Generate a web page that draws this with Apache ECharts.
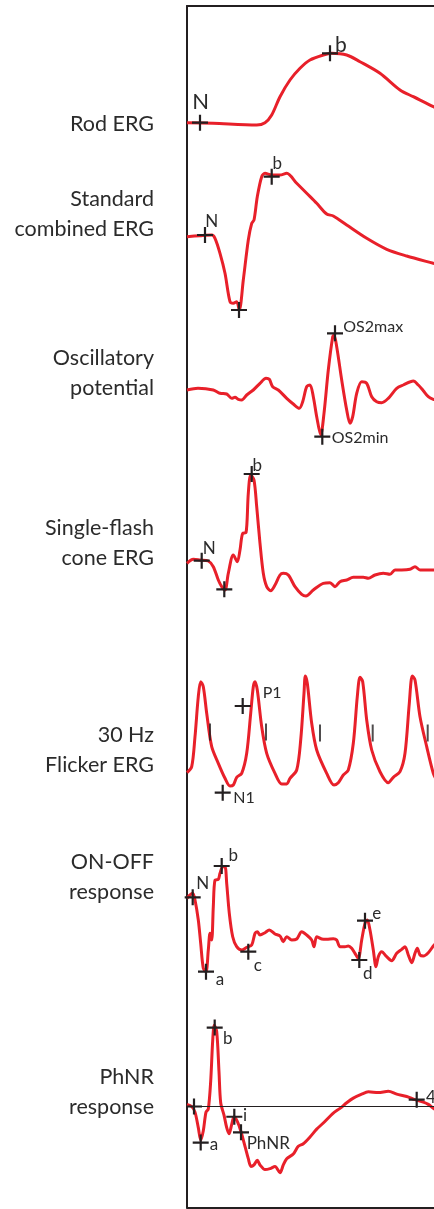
<!DOCTYPE html>
<html>
<head>
<meta charset="utf-8">
<script src="https://cdn.jsdelivr.net/npm/echarts@6/dist/echarts.min.js"></script>
<style>
  html, body { margin: 0; padding: 0; background: #fff; }
  #chart { width: 434px; height: 1209px; }
</style>
</head>
<body>
<div id="chart"></div>
<script>
// row titles, top to bottom
const traceNames = ['Rod ERG', 'Standard\ncombined ERG', 'Oscillatory\npotential', 'Single-flash\ncone ERG', '30 Hz\nFlicker ERG', 'ON-OFF\nresponse', 'PhNR\nresponse'];

// waveforms: [time, amplitude] (arbitrary units)
const rodWave = [[0, 0.3], [26, -0.3], [69.7, -2], [78, 0.3], [84.7, 8], [93, 26.3], [103, 43], [113, 54.7], [123, 63], [136.3, 68], [144.7, 69.7], [159.7, 68], [173, 61.3], [193, 49.7], [213, 33], [226.3, 26.3], [246.3, 16.3], [250, 14]];
const stdWave = [[0, -0.7], [13, 0.3], [24.7, 1], [28, -2.3], [33, -17.3], [38, -37.3], [43, -65.7], [46.3, -67.3], [49.7, -65.7], [52.3, -74], [56.3, -44], [61.3, -4], [64.7, 12.7], [67, 16], [70.3, 39.3], [74.7, 59.3], [78, 62.7], [84.7, 61], [93, 61], [99.7, 62.7], [109.7, 52.7], [119.7, 42.7], [129.7, 32.7], [139.7, 22], [146.3, 20], [159.7, 11], [179.7, -2.3], [199.7, -13.3], [219.7, -20], [246.3, -27.3], [250, -28.3]];
const opWave = [[0, 0], [11, 1.7], [26.3, 0], [33, -3.3], [39.7, -4], [44.7, -8.3], [48, -7.3], [51.3, -9.3], [54.7, -10], [59.7, -5], [66.3, 0], [73, 6.7], [79, 11.7], [82.3, 10.7], [85.7, 3.3], [91.3, 0], [99.7, -8.3], [106.3, -14], [112.3, -18.3], [115.7, -11.7], [119.7, 3.3], [123, 5], [126.3, -6.7], [129.7, -26.7], [133.7, -45], [137, -23.3], [141.3, 20], [145.7, 53.3], [147, 55], [149.7, 43.3], [154.7, 10], [159.7, -20], [163, -33.3], [165.7, -26.7], [169.7, -3.3], [174.7, 8.3], [179.7, 6.7], [184.7, -6.7], [189.7, -11.7], [194.7, -12.7], [201.3, -8.3], [209.7, 1.7], [216.3, 5], [226.3, 9], [231.3, 5], [236.3, -0.7], [241.3, -6.7], [246.3, -9.3], [250, -10]];
const coneWave = [[0, -2.3], [6.3, 1.7], [13, 1], [21.3, 0], [26.3, -5.7], [31.3, -19], [34.7, -25.7], [38, -29], [41.3, -12.3], [46.3, 6], [50.3, -0.7], [53, 11], [55.7, 27.7], [59, 28.3], [61.3, 67.7], [63.7, 86], [67, 81], [69.7, 54.3], [73, 17.7], [76.3, -12.3], [79.7, -25.7], [83.7, -29.7], [88, -24], [93, -14], [96.3, -12.3], [101.3, -14], [108, -25.7], [114.7, -33.3], [119, -35], [126.3, -29], [136.3, -22.3], [143, -21.7], [148, -25.7], [153, -20.7], [159.7, -19], [166.3, -16.3], [176.3, -16.3], [181.3, -17.3], [188, -14], [196.3, -12.3], [203, -13.3], [208, -9], [214.7, -9], [223, -8.3], [228, -5.7], [233, -9], [246.3, -9], [250, -9]];
const flickerWave = [[0, 0.3], [4.7, 6.3], [8, 36.3], [11.3, 76.3], [13.7, 91.3], [16.3, 86.3], [19.7, 59.7], [24.7, 26.3], [31.3, 9.7], [38, -5.3], [43, -13], [46.3, -12], [49.7, -4.3], [54.7, -0.3], [59.7, 19.7], [63.7, 59.7], [66.3, 86.3], [68, 91.3], [70.3, 83], [74.7, 46.3], [79.7, 19.7], [88, -0.3], [94.7, -11], [99.7, -11], [103, -5.3], [109.7, 3], [113.7, 33], [117, 79.7], [118.3, 97], [120.3, 89.7], [124.7, 49.7], [129.7, 23], [139.7, -0.3], [147, -12], [151.3, -9.7], [156.3, -2], [161.3, 3], [166.3, 29.7], [170.3, 76.3], [173, 95.7], [175.7, 91.3], [179.7, 53], [184.7, 23], [193, 1.3], [201.3, -9.7], [206.3, -4.3], [213, 1.3], [218, 19.7], [222.3, 69.7], [225.3, 97], [228, 93], [233, 56.3], [239.7, 26.3], [246.3, -0.3], [250, -8]];
const onoffWave = [[0, -0.3], [3, 3], [5.7, 4.7], [8, -2], [11.3, -22], [13.7, -45.3], [16.3, -70.3], [19, -73.7], [21.3, -52], [23, -35.3], [24.7, -42], [26.3, -8.7], [28, 18], [31.3, 18.7], [33, 24.7], [35.7, 31.3], [38, 31.3], [39.7, 14.7], [42.3, -15.3], [45.7, -38.7], [49.7, -48.7], [54.7, -52], [59.7, -49.3], [64.7, -47], [68, -35.3], [70.3, -33.7], [73, -37], [78, -34.7], [82.3, -32], [88, -36], [93, -38], [96.3, -43.7], [99.7, -38.7], [104.7, -42], [109.7, -41], [114.7, -33.7], [119.7, -37], [124.7, -42], [127, -48.7], [129.7, -38.7], [134.7, -41], [139.7, -41.3], [146.3, -40.7], [149.7, -42], [153, -48.7], [158, -48.7], [161.3, -48], [164.7, -50.3], [168, -55.3], [171.3, -60.3], [174.7, -42], [178, -25.3], [180.3, -22], [183, -32], [186.3, -52], [189, -68.7], [191.3, -58.7], [194.7, -53.7], [199.7, -58.7], [204.7, -62.7], [209.7, -55.3], [214.7, -51.3], [218, -48.7], [221.3, -57], [224.7, -64.7], [228, -55.3], [230.3, -50.3], [233, -57], [236.3, -58], [241.3, -54.7], [246.3, -48], [250, -44]];
const phnrWave = [[0, 2.3], [4.7, 0], [8, -6], [11.3, -22.7], [13.7, -36], [16.3, -26], [19, -6], [21.3, -2.7], [23.7, 27.3], [25.7, 70.7], [27.3, 87.3], [29.7, 80.7], [32, 37.3], [33.7, 4], [37, -9.3], [39.7, -22.7], [42, -29.3], [44.7, -19.3], [47, -11], [50.3, -16], [53.7, -26], [58, -42.7], [61.3, -56], [64, -64.3], [67, -62.7], [70.3, -57.7], [73, -62.7], [78, -67.7], [83, -66.7], [88, -64.3], [93, -71], [96.3, -62.7], [99.7, -56], [106.3, -51], [111.3, -42.7], [116.3, -40], [123, -32.7], [129.7, -24.3], [136.3, -17.7], [146.3, -7], [153, -2], [159.7, 4], [166.3, 9], [174.7, 13.3], [181.3, 15.7], [191.3, 15], [201.3, 16.3], [209.7, 13.3], [219.7, 10.7], [228, 7.3], [236.3, 4.7], [241.3, 2.3], [246.3, -2], [250, -4]];

// cursor marks: [label, time, amplitude]
const rodMarks = [['N', 13, 0.3], ['b', 143, 69.7]];
const stdMarks = [['N', 18, 1], ['', 52, -74], ['b', 84.7, 59.3]];
const opMarks = [['OS2max', 148, 56.7], ['OS2min', 135.3, -46.7]];
const coneMarks = [['N', 14.7, 0.3], ['', 37.3, -28.3], ['b', 64.7, 87]];
const flickerMarks = [['P1', 55.7, 67], ['N1', 35.7, -19.7]];
const onoffMarks = [['N', 5.7, 0.7], ['a', 19, -73.7], ['b', 34.7, 32], ['c', 61.3, -53.7], ['d', 172.3, -62], ['e', 178, -22.7]];
const phnrMarks = [['', 7, 0], ['a', 13.7, -38.7], ['b', 27.7, 84.7], ['i', 47.3, -11], ['PhNR', 54, -27.7], ['40', 229.7, 7.3]];

// stimulus ticks of the flicker train
const flickerStim = [23, 79, 133, 185.7, 240.7];
const flickerStimLevel = [41, 41, 40, 40, 40];

const waves = [rodWave, stdWave, opWave, coneWave, flickerWave, onoffWave, phnrWave];
const marks = [rodMarks, stdMarks, opMarks, coneMarks, flickerMarks, onoffMarks, phnrMarks];

// layout
const baseY = [123, 236, 390, 561, 773, 898, 1114];
const titleY = [124, 214, 373, 543, 750, 877, 1092];
const halfH = 110;
const RED = '#e8202a';
const INK = '#231f20';
const FONT = 'Lato, "Open Sans", sans-serif';
const CROSS = 'path://M0,6.9h16v2.2h-16z M6.9,0h2.2v16h-2.2z';

// label placement for each cursor: [dx, dy, align, fontSize]
const labelPos = [
  { N: [0.7, -21, 'center', 22], b: [11, -8, 'center', 21] },
  { N: [6.7, -13.3, 'center', 17], b: [5.6, -12.7, 'center', 17] },
  { OS2max: [8.3, -6.6, 'left', 16], OS2min: [9.4, 1.6, 'left', 16] },
  { N: [7.6, -12.4, 'center', 17], b: [5.6, -8, 'center', 17] },
  { P1: [20, -12.7, 'left', 16], N1: [10.6, 5.6, 'left', 16] },
  { N: [10, -13.3, 'center', 17], a: [14, 7.6, 'center', 17], b: [11.6, -10, 'center', 17], c: [9.4, 14.3, 'center', 17], d: [8.4, 13.3, 'center', 17], e: [11.7, -6.7, 'center', 17] },
  { a: [13.3, 2.3, 'center', 17], b: [13, 11.4, 'center', 17], i: [10.7, -1.7, 'center', 17], PhNR: [5.7, 11, 'left', 17], '40': [9.3, -1.7, 'left', 17] }
];

const grids = baseY.map((b) => ({ left: 187, right: 0, top: b - halfH, height: halfH * 2 }));
grids.push({ left: 187, right: 0, top: 6, bottom: 1.5 }); // frame

const xAxes = baseY.map((b, i) => ({ gridIndex: i, type: 'value', min: 0, max: 247, show: false }));
const yAxes = baseY.map((b, i) => ({ gridIndex: i, type: 'value', min: -halfH, max: halfH, show: false }));

const frameLine = { show: true, onZero: false, lineStyle: { color: INK, width: 2 } };
const frameAxis = { type: 'value', min: 0, max: 1, axisLine: frameLine, axisTick: { show: false }, axisLabel: { show: false }, splitLine: { show: false } };
xAxes.push(Object.assign({ gridIndex: 7, position: 'top' }, frameAxis));
xAxes.push(Object.assign({ gridIndex: 7, position: 'bottom' }, frameAxis));
yAxes.push(Object.assign({ gridIndex: 7, position: 'left' }, frameAxis));

const series = [];
waves.forEach((w, i) => {
  const s = {
    type: 'line',
    xAxisIndex: i,
    yAxisIndex: i,
    data: w,
    showSymbol: false,
    smooth: 0.3,
    clip: false,
    lineStyle: { color: RED, width: 3 },
    z: 2,
    silent: true
  };
  if (i === 6) {
    s.markLine = {
      silent: true,
      symbol: 'none',
      label: { show: false },
      lineStyle: { color: INK, width: 1, type: 'solid' },
      data: [{ yAxis: 0 }]
    };
  }
  series.push(s);

  series.push({
    type: 'scatter',
    xAxisIndex: i,
    yAxisIndex: i,
    symbol: CROSS,
    symbolSize: 16,
    itemStyle: { color: INK, opacity: 1 },
    z: 4,
    silent: true,
    data: marks[i].map((m) => {
      const p = labelPos[i][m[0]];
      return {
        value: [m[1], m[2]],
        label: p ? {
          show: true,
          formatter: m[0],
          position: 'inside',
          offset: [p[0], p[1]],
          align: p[2],
          verticalAlign: 'middle',
          fontSize: p[3],
          fontFamily: FONT,
          color: '#2b2b2b',
          textBorderWidth: 0
        } : { show: false }
      };
    })
  });
});

series.push({
  type: 'scatter',
  xAxisIndex: 4,
  yAxisIndex: 4,
  symbol: 'rect',
  symbolSize: [2, 17],
  itemStyle: { color: INK },
  z: 4,
  silent: true,
  data: flickerStim.map((t, k) => [t, flickerStimLevel[k]])
});

const chart = echarts.init(document.getElementById('chart'));
chart.setOption({
  animation: false,
  grid: grids,
  xAxis: xAxes,
  yAxis: yAxes,
  series: series,
  graphic: traceNames.map((name, i) => ({
    type: 'text',
    x: 154,
    y: titleY[i],
    style: {
      text: name,
      font: '21.5px ' + FONT,
      fill: '#2b2b2b',
      textAlign: 'right',
      textVerticalAlign: 'middle',
      lineHeight: 30
    }
  }))
});
</script>
</body>
</html>
